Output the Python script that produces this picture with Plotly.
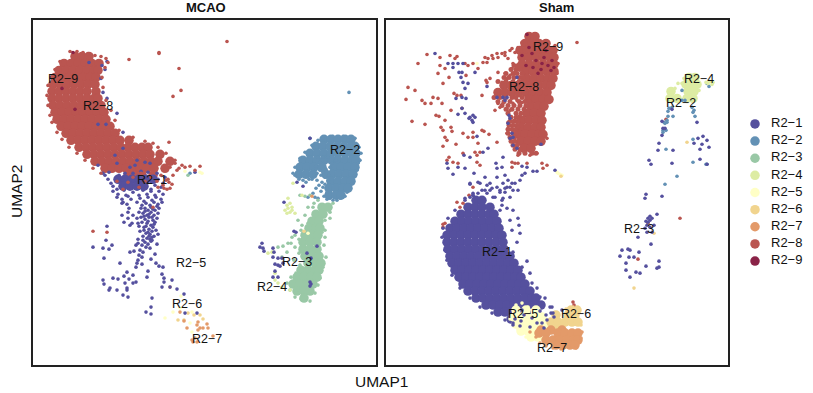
import plotly.graph_objects as go

CLUSTERS = ["R2−1", "R2−2", "R2−3", "R2−4", "R2−5", "R2−6", "R2−7", "R2−8", "R2−9"]
COLORS = ["#55509E", "#6391B5", "#99C8A6", "#DDECA3", "#FFFFC6", "#F1D48E", "#E39A69", "#BA5550", "#8A2347"]

# ---- MCAO: dense bodies, {umap2: [umap1, ...]} ----
MCAO_CORE_8 = {
 309:[42,49,56], 302:[31,38,45,52,59,66], 295:[26,33,40,47,54,61,65], 288:[22,29,36,43,50,57,63],
 281:[20,27,34,41,48,55,62], 274:[19,26,33,40,47,54,63], 267:[19,26,33,40,47,54,61,65],
 260:[20,27,34,41,48,55,62,68], 253:[22,29,36,43,50,57,64,71], 246:[24,31,38,45,52,59,66,73],
 239:[28,35,42,49,56,63,70,77], 232:[33,40,47,54,61,68,75,82], 225:[38,45,52,59,66,73,80,87,96],
 218:[46,53,60,67,74,81,88,95,102,109,115], 211:[54,61,68,75,82,89,96,103,110,117,127],
 204:[62,69,76,83,90,97,104,111,118,125,137], 197:[72,79,86,93,100,107,114,121,132],
 190:[95,102,109,120],
}
MCAO_CORE_1 = {186:[85,92,99,106,113,120], 179:[90,97,104,111]}
MCAO_CORE_2 = {
 226:[291,298,305,312,318], 219:[283,290,297,304,311,318,322], 212:[277,284,291,298,305,312,319,323],
 205:[270,277,284,291,299,305,312,319,323], 198:[267,274,281,289,301,308,315,322], 191:[266,273,280,293,299,306,313,320],
 184:[298,305,312,318], 177:[296,303,310,315], 170:[296,303,308],
}
MCAO_CORE_3 = {
 158:[289,295], 151:[283,290], 144:[279,286], 137:[276,283,287], 130:[272,279,285], 123:[270,277,284],
 116:[270,277,284], 109:[272,279,286], 102:[275,282,288], 95:[268,275,282,286], 88:[264,271,278,284],
 81:[260,267,274,280], 74:[264,271,277], 67:[271],
}
# ---- MCAO: individual cells ----
MCAO_FUNNEL_1 = [(80,174),(85,171),(91,175),(95,169),(100,173),(106,170),(110,175),(114,171),(118,174),(122,170),(126,174),
 (130,171),(84,168),(89,166),(93,170),(98,166),(107,167),(111,164),(115,168),(119,165),(123,168),(128,166),(90,163),(94,161),
 (104,163),(109,160),(113,162),(117,160),(121,163),(125,161),(129,163),(108,157),(112,157),(115,155),(118,158),(122,155),
 (126,157),(106,153),(110,152),(114,150),(118,153),(121,150),(125,152),(108,148),(112,146),(116,148),(120,145),(124,147),
 (109,143),(114,142),(118,140),(122,143),(106,139),(111,138),(116,136),(120,138),(123,135),(107,134),(113,132),(117,131),
 (119,134),(110,129),(114,127),(117,126),(121,129),(125,131),(105,126),(112,123),(115,121),(118,124),(105,122),(109,120),
 (113,118),(117,117),(124,121),(107,115),(110,113),(106,110),(122,111),(119,128),(111,135),(115,144),
 (75,186),(72,190),(78,182),(80,179),(84,176),(70,192),(76,193),(125,186),(130,182),(128,178),(122,180),(118,176),
 (86,190),(92,192),(100,192),(108,194),(115,193),(124,192),(132,188),(112,154),(116,151),(119,148),(113,139),(121,141),
 (115,133),(119,125),(110,125),(116,129),(120,156),(124,159),(111,149)]
MCAO_CELLS_1 = [(89,162),(96,157),(95,153),(89,150),(100,150),(95,147),(91,143),(99,142),(104,147),(105,142),(97,140),
 (74,139),(73,125),(79,120),(76,116),(70,117),(60,118),(71,107),(87,102),(97,113),(101,114),(103,120),(109,108),
 (105,105),(104,102),(103,98),(109,101),(118,106),(123,102),(126,99),(130,98),(115,94),(129,91),(131,87),(139,85),
 (129,78),(131,83),(144,76),(137,78),(151,71),(94,93),(91,89),(100,90),(96,86),(85,86),(80,87),(70,85),(71,81),
 (77,77),(76,75),(84,75),(92,82),(94,77),(94,75),(100,82),(103,83),(114,88),(90,70),(95,68),(119,67),(118,58),
 (113,53),(118,51),(164,52),(152,52),(56,303),(69,300),(74,304),(72,296),(70,273),(74,267),(84,252),(65,241),
 (73,241),(90,233),(68,287),(90,217),(82,210),(104,205),(84,202),(65,200),(112,203),(117,202),(97,198),(102,200),
 (162,193),(251,163),(261,134),(263,133),(284,119),(274,112),(278,107),(229,122),(227,118),(230,117),(231,114),
 (240,117),(241,113),(240,108),(245,107),(249,107),(242,101),(245,100),(247,99),(250,102),(242,94),(245,88),
 (240,88),(277,83),(278,81),(277,79),(264,183),(270,179),(277,227)]
MCAO_CELLS_2 = [(277,227),(284,185),(279,186),(270,185),(289,183),(290,178),(283,177),(294,173),(285,167),(282,168),
 (275,168),(287,195),(292,188),(295,185),(284,192),(290,193),(297,198),(280,195),(303,205),(299,202),(295,208),
 (290,208),(285,208),(322,227),(326,218),(328,212),(325,202),(322,190),(319,182),(314,173),(307,167),(300,165),
 (294,166),(260,192),(262,198),(267,207),(272,213),(279,220),(285,225),(290,227),(300,229),(310,229),(317,228),
 (316,273),(157,192),(283,199),(288,190),(293,196),(296,190),(287,203),(292,203),(281,190),(276,186),(266,186),(262,190),
 (273,183),(286,180),(292,181),(294,177),(288,174),(280,172),(291,169),(297,167),(324,195),(327,205),(312,169),(304,165)]
MCAO_CELLS_3 = [(277,170),(272,169),(267,170),(275,158),(281,162),(265,145),(287,159),(259,128),(250,119),(245,118),
 (255,122),(254,113),(249,108),(262,130),(254,82),(257,75),(273,67),(287,87),(290,98),(293,108),(291,120),(289,133),
 (297,153),(300,162),(155,190),(262,118),(258,122),(266,112),(261,105),(267,100),(263,92),(258,88),(268,135),(266,126),
 (272,150),(275,142),(269,140),(285,165),(280,158),(292,145),(297,147),(292,135),(292,128),(265,75),(262,68),(268,66),
 (277,64),(282,72),(285,80)]
MCAO_CELLS_4 = [(255,167),(257,162),(254,160),(252,155),(255,157),(259,158),(257,153),(254,152),(262,152),(260,182),
 (269,170),(259,155),(242,92),(242,85),(245,82),(249,78),(257,75),(235,112),(239,113)]
MCAO_CELLS_5 = [(148,69),(132,47),(140,53),(159,53),(147,57),(159,33),(157,42),(152,194),(167,193),(169,192),(275,132)]
MCAO_CELLS_6 = [(167,50),(170,46),(155,52),(161,50),(151,45),(145,45),(271,134)]
MCAO_CELLS_7 = [(147,53),(151,44),(154,37),(165,43),(164,40),(167,37),(170,37),(174,41),(175,37),(165,35),(159,25),
 (162,27),(160,23),(164,23),(180,29),(137,78),(279,169)]
MCAO_CELLS_8 = [(126,313),(126,312),(96,306),(146,297),(148,275),(140,269),(136,223),(120,222),(194,324),(149,200),
 (152,198),(157,199),(162,195),(167,199),(144,195),(137,198),(142,202),(60,134),(74,133),(120,158),(130,180),
 (136,183),(134,176),(37,314),(44,314),(50,313),(55,312),(62,310),(68,309),(73,307),(75,303),(27,304),(22,296),
 (18,288),(15,280),(14,270),(15,260),(17,250),(19,243),(24,233),(29,226),(36,218),(44,212),(52,205),(60,197),
 (68,192),(72,298),(69,288),(70,278),(73,265),(78,255),(82,245),(86,235),(100,228),(112,224),(125,218),(133,212),
 (142,205),(146,197),(140,190),(133,185),(125,178),(100,188),(112,184),(124,184),(135,186),(139,181),(131,177),(95,183),
 (84,184),(106,178),(118,188),(128,190),(90,176),(108,192),(137,177)]
MCAO_CELLS_9 = [(40,313),(42,256),(29,277)]

# ---- Sham: dense bodies ----
SHAM_CORE_8 = {
 329:[143,149], 322:[139,146,153,160], 315:[134,141,148,155,162,167], 308:[136,143,150,157,164,168],
 301:[136,143,150,157,164,168], 294:[140,147,154,161,168], 287:[141,148,155,162,167],
 280:[118,125,132,139,146,153,160,165], 273:[112,119,126,133,140,147,154,161], 266:[143,150,157,163],
 259:[145,152,158], 252:[141,148,155], 245:[136,143,150,156], 238:[135,142,149,155],
 231:[132,139,146,153,157], 224:[135,142,149,155], 217:[138,145],
}
SHAM_SPECKLE_8 = {300:[128,132], 296:[125,130,134], 292:[120,127,131,136], 288:[118,123,128,134,137], 284:[112,120,127,133],
 268:[108,114,120,126,130,136,141], 264:[112,118,124,133,139,143], 260:[116,122,128,134,140], 256:[120,126,132,138],
 252:[122,130,135], 248:[125,130,133], 244:[124,128,132], 240:[123,127,131], 236:[122,126,130], 232:[122,127,130],
 228:[124,128], 224:[125,129], 220:[127,131], 216:[129,134], 212:[133,139,146,150]}
SHAM_CORE_1 = {
 165:[90,96], 158:[82,89,96,104], 151:[75,82,89,96,103,108], 144:[69,76,83,90,97,104,111],
 137:[64,71,78,85,92,99,106,113], 130:[61,68,75,82,89,96,103,110,116], 123:[61,68,75,82,89,96,103,110,117],
 116:[62,69,76,83,90,97,104,111,118], 109:[64,71,78,85,92,99,106,113,120,124],
 102:[66,73,80,87,94,101,108,115,122,128], 95:[69,76,83,90,97,104,111,118,125,132],
 88:[73,80,87,94,101,108,115,122,129,135], 81:[77,84,91,98,105,112,119,126,133,139],
 74:[82,89,96,103,110,117,124,131,138,144], 67:[90,97,104,111,118,125,132,139,146,150],
 60:[100,107,114,121,128,135,142,149,155], 53:[112,119,126,133,140], 46:[125],
}
SHAM_CORE_4 = {288:[303,309], 281:[300,306,311], 274:[285,302,308], 267:[284,291,301,307]}
SHAM_CORE_5 = {55:[130,140,150], 48:[128,135,142,149,156], 41:[130,137,144,151,158], 34:[135,142,148], 28:[145,152]}
SHAM_CORE_6 = {55:[185,191], 50:[170,182,189], 43:[165,172,179,186,192], 37:[168,175]}
SHAM_CORE_7 = {35:[155,165,176], 32:[153,160,172,179,186,192], 25:[160,167,174,181,188,192], 20:[170,177,184,189]}
# ---- Sham: individual cells ----
SHAM_CELLS_1 = [(49,312),(62,302),(67,302),(72,302),(77,302),(67,298),(73,293),(76,293),(75,288),(77,283),(82,282),
 (79,277),(89,293),(70,267),(76,268),(80,267),(76,257),(72,251),(79,252),(84,248),(87,250),(89,248),(86,245),
 (87,243),(83,247),(91,229),(78,210),(84,208),(102,217),(97,213),(117,208),(101,279),(111,268),(117,268),(119,265),
 (121,268),(123,250),(124,247),(122,242),(126,232),(127,228),(124,227),(127,220),(131,288),(155,221),(131,217),
 (61,202),(62,197),(67,191),(72,198),(79,197),(88,192),(110,202),(111,197),(116,198),(136,199),(141,198),(147,194),
 (151,194),(169,195),(84,182),(87,172),(94,182),(99,188),(104,182),(111,188),(119,190),(122,185),(117,182),(121,178),
 (126,182),(129,182),(111,178),(104,175),(99,175),(92,172),(87,170),(114,173),(119,173),(127,175),(132,175),(136,190),
 (139,192),(134,185),(107,168),(117,167),(124,168),(97,167),(79,167),(84,168),(132,147),(133,140),(134,132),(126,135),
 (124,145),(131,123),(127,113),(141,104),(136,98),(144,92),(146,82),(151,77),(159,67),(154,68),(157,62),(164,58),
 (114,175),(119,177),(106,177),(124,178),(116,165),(109,168),(101,172),(96,175),(87,170),(121,157),(114,155),(127,155),
 (116,160),(79,165),(84,181),(92,183),(101,180),(69,155),(62,147),(57,137),(56,128),(59,115),(61,105),(66,90),(74,77),
 (84,67),(94,58),(106,52),(119,45),(127,40),(127,42),(134,39),(144,38),(156,42),(158,37),(161,45),(167,52),(168,48),
 (176,55),(165,52),(166,58),(276,244),(277,237),(279,237),(276,230),(286,256),(311,243),(308,222),(312,227),(317,229),
 (321,225),(316,221),(314,216),(323,218),(273,222),(272,215),(287,215),(263,205),(265,201),(286,202),(314,206),(321,201),
 (260,171),(259,167),(276,169),(271,151),(264,149),(266,147),(262,147),(264,145),(260,144),(262,143),(268,140),(261,140),
 (264,138),(259,137),(261,133),(266,133),(252,128),(265,121),(236,115),(242,116),(244,115),(253,113),(234,109),(243,108),
 (248,108),(240,102),(273,104),(260,99),(271,97),(273,98),(240,95),(250,93),(254,92),(244,88),
 (138,50),(146,47),(151,42),(135,44),(129,46),(160,50),(154,54),(143,62),(136,55)]
SHAM_CELLS_2 = [(321,282),(323,279),(296,275),(287,249),(282,249),(283,257),(282,254),(286,258),(296,265),(299,265),
 (306,258),(307,253),(309,249),(308,255),(281,245),(279,242),(281,243),(277,235),(280,235),(277,233),(280,216),(307,226),
 (307,203),(320,201),(321,201),(291,189),(279,181),(278,243)]
SHAM_CELLS_4 = [(322,282),(326,281),(324,284),(320,283),(327,283),(292,282),(289,277),(296,282),(298,287),(311,285),(313,275)]
SHAM_CELLS_5 = [(171,193),(172,192),(174,191),(176,190),(91,302),(130,60),(136,62),(142,58),(124,46),(132,36),(140,28)]
SHAM_CELLS_6 = [(175,189),(301,223),(268,132),(248,77),(195,40),(180,56),(187,58)]
SHAM_CELLS_7 = [(144,33),(150,28),(154,22),(160,19),(167,17),(175,16),(190,17),(195,27),(196,33),(262,142)]
SHAM_CELLS_8 = [(141,331),(191,323),(97,303),(99,308),(102,307),(106,310),(111,312),(116,312),(119,313),(124,315),(129,313),
 (101,303),(107,307),(112,308),(119,310),(122,307),(126,317),(132,318),(136,323),(127,302),(126,297),(129,293),(124,290),
 (121,287),(116,283),(131,298),(132,288),(136,285),(119,292),(112,293),(104,287),(100,285),(117,262),(121,257),(112,262),
 (124,255),(131,265),(127,262),(136,263),(132,257),(139,258),(134,250),(129,245),(132,238),(122,243),(121,232),(124,227),
 (127,220),(132,210),(144,210),(151,212),(161,227),(163,263),(171,292),(172,302),(169,320),(41,311),(54,308),(64,310),
 (71,309),(69,307),(32,302),(54,300),(59,297),(52,292),(79,302),(82,300),(87,302),(92,297),(63,288),(57,282),(80,290),
 (22,278),(29,275),(20,266),(36,265),(39,262),(47,268),(52,267),(56,262),(45,262),(68,272),(71,270),(75,270),(65,255),
 (76,257),(26,244),(39,241),(50,250),(53,249),(59,245),(55,238),(57,235),(65,238),(66,234),(59,228),(61,225),(57,219),
 (70,221),(77,232),(82,228),(87,228),(87,233),(96,235),(98,234),(103,231),(111,223),(92,222),(89,213),(94,213),(77,212),
 (63,208),(72,202),(67,203),(61,205),(91,210),(91,203),(94,200),(101,283),(96,270),(109,255),(114,258),(126,203),(129,202),
 (126,198),(141,202),(156,202),(161,200),(157,197),(132,202),(71,163),(74,158),(77,162),(83,170),(87,178),(57,138),
 (57,141),(59,142),(187,63),(188,60),(294,147),(280,246),(252,106),(262,142)]
SHAM_CELLS_9 = [(141,331),(146,312),(150,305),(156,302),(162,300),(166,305),(140,300),(147,298),(155,296),(165,295),
 (136,310),(160,315),(143,318),(152,292),(168,298),(158,308)]

MCAO_LABELS = [(119,184),(312,214),(264,102),(239,77),(158,101),(154,60),(174,25),(65,258),(30,286)]
SHAM_LABELS = [(111,112),(295,262),(253,135),(313,286),(137,50),(190,50),(166,16),(138,278),(162,318)]

W, H = 813, 393
FONT = "Liberation Sans, Arial, sans-serif"


def flat(rows):
    return [x for y, xs in rows.items() for x in xs], [y for y, xs in rows.items() for _ in xs]


def unzip(cells):
    return [c[0] for c in cells], [c[1] for c in cells]


fig = go.Figure()


def add(xs, ys, idx, size, xa, ya):
    fig.add_trace(go.Scatter(x=xs, y=ys, mode="markers", xaxis=xa, yaxis=ya, hoverinfo="skip", showlegend=False,
                             marker=dict(color=COLORS[idx], size=size, line=dict(width=0))))


panels = [
    ("x", "y", [(MCAO_CORE_8, 7), (MCAO_CORE_1, 0), (MCAO_CORE_2, 1), (MCAO_CORE_3, 2)],
     [(MCAO_CELLS_2, 1), (MCAO_CELLS_3, 2), (MCAO_CELLS_4, 3), (MCAO_CELLS_5, 4), (MCAO_CELLS_6, 5),
      (MCAO_CELLS_7, 6), (MCAO_FUNNEL_1, 0), (MCAO_CELLS_1, 0), (MCAO_CELLS_8, 7), (MCAO_CELLS_9, 8)], MCAO_LABELS),
    ("x2", "y2", [(SHAM_CORE_8, 7), (SHAM_CORE_1, 0), (SHAM_CORE_4, 3), (SHAM_CORE_5, 4), (SHAM_CORE_6, 5), (SHAM_CORE_7, 6)],
     [(SHAM_CELLS_8, 7), (SHAM_CELLS_2, 1), (SHAM_CELLS_4, 3), (SHAM_CELLS_5, 4), (SHAM_CELLS_6, 5), (SHAM_CELLS_7, 6),
      (SHAM_CELLS_1, 0), (SHAM_CELLS_9, 8)], SHAM_LABELS),
]
for xa, ya, cores, cells, labels in panels:
    for rows, idx in cores:
        add(*flat(rows), idx, 9.5, xa, ya)
    if xa == "x2":
        add(*flat(SHAM_SPECKLE_8), 7, 5, xa, ya)
    for lst, idx in cells:
        add(*unzip(lst), idx, 3.6, xa, ya)
    lx, ly = unzip(labels)
    fig.add_trace(go.Scatter(x=lx, y=ly, text=CLUSTERS, mode="text", xaxis=xa, yaxis=ya, hoverinfo="skip", showlegend=False,
                             textposition="middle center", textfont=dict(family=FONT, size=12.5, color="#111111")))

# legend column, drawn on its own hidden axes so the row pitch matches
ranks = list(range(len(CLUSTERS)))
fig.add_trace(go.Scatter(x=[25] * 9, y=ranks, mode="markers", xaxis="x3", yaxis="y3", hoverinfo="skip", showlegend=False,
                         marker=dict(color=COLORS, size=9.5, line=dict(width=0))))
fig.add_trace(go.Scatter(x=[41] * 9, y=ranks, text=CLUSTERS, mode="text", xaxis="x3", yaxis="y3", hoverinfo="skip",
                         showlegend=False, textposition="middle right",
                         textfont=dict(family=FONT, size=13, color="#111111")))

frame = dict(showticklabels=False, ticks="", showgrid=False, zeroline=False, showline=True, mirror=True,
             linecolor="#222222", linewidth=2)
top, bottom = 1 - 19.5 / H, 1 - 365 / H


def note(text, px, py, size, **kw):
    return dict(text=text, x=px / W, y=1 - py / H, xref="paper", yref="paper", showarrow=False, xanchor="center",
                yanchor="middle", font=dict(family=FONT, size=size, color="#111111"), **kw)


fig.update_layout(
    width=W, height=H, margin=dict(l=0, r=0, t=0, b=0), paper_bgcolor="white", plot_bgcolor="white", showlegend=False,
    xaxis=dict(domain=[33 / W, 376 / W], range=[0, 343], anchor="y", **frame),
    yaxis=dict(domain=[bottom, top], range=[0, 346], anchor="x", **frame),
    xaxis2=dict(domain=[386 / W, 728 / W], range=[0, 342], anchor="y2", **frame),
    yaxis2=dict(domain=[bottom, top], range=[0, 346], anchor="x2", **frame),
    xaxis3=dict(domain=[730 / W, 1], range=[0, 83], anchor="y3", visible=False),
    yaxis3=dict(domain=[1 - 285 / H, 1 - 100 / H], range=[9.4, -1.4], anchor="x3", visible=False),
    annotations=[
        note("<b>MCAO</b>", 206, 8, 13),
        note("<b>Sham</b>", 556, 8, 13),
        note("UMAP1", 381, 381, 15.5),
        note("UMAP2", 17, 192, 15.5, textangle=-90),
    ],
)
fig.write_html("out.html", config=dict(displayModeBar=False), post_script="document.body.style.margin='0';")
